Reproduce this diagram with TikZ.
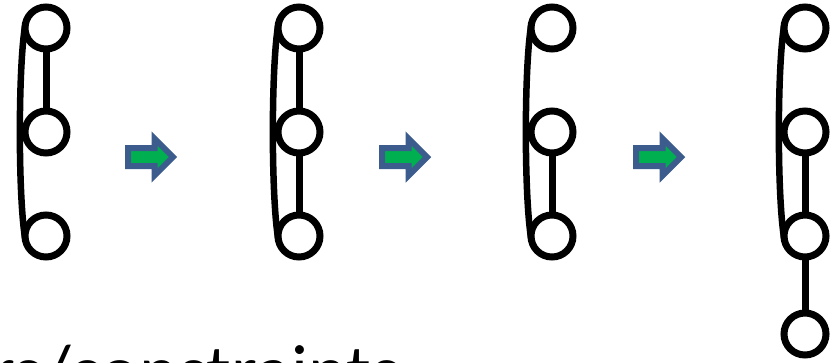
\documentclass[tikz,border=0pt]{standalone}
\usepackage{fontspec}
\setmainfont{Carlito}
\usepackage{xcolor}
\usepackage{tikz}
\usetikzlibrary{positioning,shapes.arrows}
\definecolor{stepblue}{HTML}{3B5C8C}
\definecolor{stepgreen}{HTML}{00B050}
\tikzset{
  joint/.style={circle, draw, line width=7pt, minimum size=42pt, inner sep=0pt, outer sep=0pt, fill=white},
  bar/.style={line width=7pt},
  loopback/.style={line width=6.5pt, out=-100, in=100, looseness=0.5},
  stepper/.style={single arrow, draw=stepblue, fill=stepgreen, line width=6pt, minimum height=45pt, inner xsep=0pt, inner ysep=6pt, single arrow head extend=9.5pt, anchor=tail},
  caption/.style={anchor=base west, inner sep=0pt, font=\fontsize{74}{88}\selectfont}
}

\begin{document}
\begin{tikzpicture}[x=1pt, y=-1pt, node distance=62pt]
  \useasboundingbox (0,0) rectangle (838,362);

  % chain 1
  \node[joint] (a1) at (46,28) {};
  \node[joint, below=of a1] (a2) {};
  \node[joint, below=of a2] (a3) {};
  \draw[bar] (a1) -- (a2);
  \draw[loopback] (a1.170) to (a3.190);

  % chain 2
  \node[joint] (b1) at (299,28) {};
  \node[joint, below=of b1] (b2) {};
  \node[joint, below=of b2] (b3) {};
  \draw[bar] (b1) -- (b2);
  \draw[bar] (b2) -- (b3);
  \draw[loopback] (b1.170) to (b3.190);

  % chain 3
  \node[joint] (c1) at (552,28) {};
  \node[joint, below=of c1] (c2) {};
  \node[joint, below=of c2] (c3) {};
  \draw[bar] (c2) -- (c3);
  \draw[loopback] (c1.170) to (c3.190);

  % chain 4, one joint longer
  \node[joint] (d1) at (805,28) {};
  \node[joint, below=of d1] (d2) {};
  \node[joint, below=of d2] (d3) {};
  \node[joint, below=56pt of d3] (d4) {};
  \draw[bar] (d2) -- (d3);
  \draw[bar] (d3) -- (d4);
  \draw[loopback] (d1.170) to (d3.190);

  % steps between chains
  \node[stepper] (s1) at (125,157) {};
  \node[stepper] (s2) at (379,157) {};
  \node[stepper] (s3) at (633,157) {};

  \node[caption] (note) at (-11,396) {rs/constraints};
\end{tikzpicture}
\end{document}
